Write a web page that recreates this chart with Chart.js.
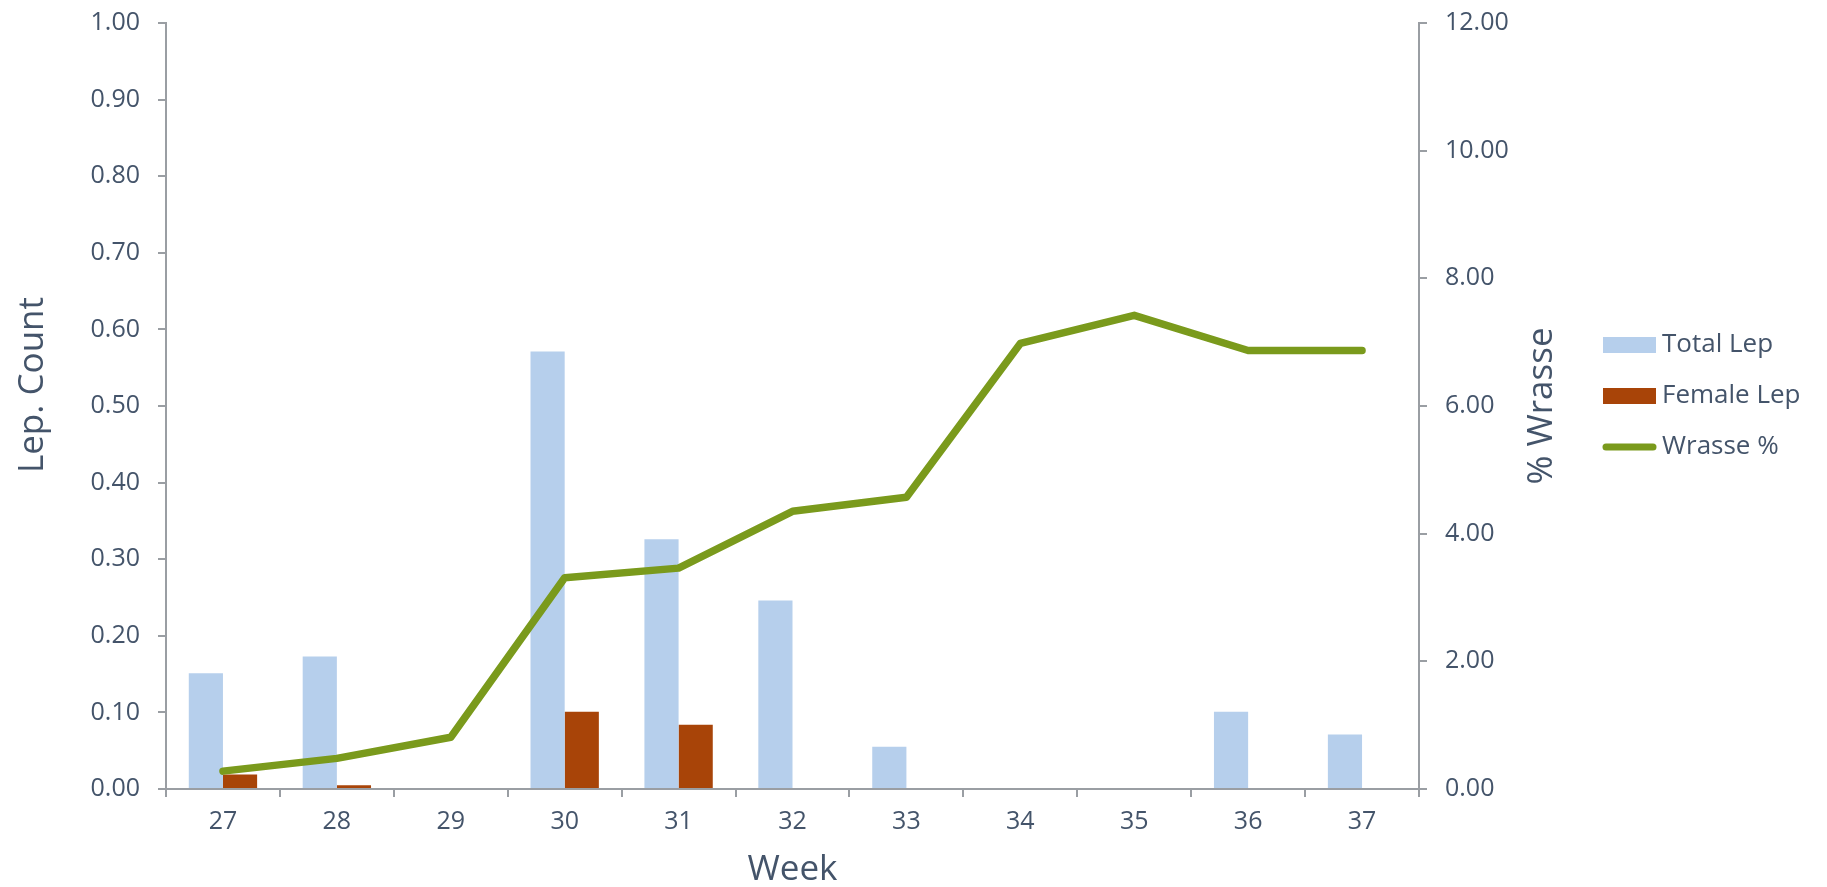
<!DOCTYPE html>
<html>
<head>
<meta charset="utf-8">
<script src="https://cdn.jsdelivr.net/npm/chart.js@4/dist/chart.umd.min.js"></script>
<style>
  html, body { margin: 0; padding: 0; background: #fff; }
  #wrap { width: 1827px; height: 887px; }
</style>
</head>
<body>
<div id="wrap"><canvas id="lepChart" width="1827" height="887"></canvas></div>
<script>
// --- data ---
const weeks = ['27', '28', '29', '30', '31', '32', '33', '34', '35', '36', '37'];
const totalLep = [0.151, 0.173, 0, 0.571, 0.326, 0.246, 0.055, 0, 0, 0.101, 0.071];
const femaleLep = [0.019, 0.005, 0, 0.101, 0.084, 0, 0, 0, 0, 0, 0];
const wrassePct = [0.28, 0.48, 0.81, 3.31, 3.46, 4.35, 4.57, 6.98, 7.42, 6.87, 6.87];

const TEXT = '#44546A';
const AXIS = '#9A9EA3';
const FONT = "'Open Sans', 'Noto Sans', sans-serif";

// axis titles (rotated) + legend drawn by hand, like the Excel layout
const extrasPlugin = {
    id: 'extras',
    afterDraw(chart) {
        const c = chart.ctx;
        const area = chart.chartArea;
        c.save();
        c.fillStyle = TEXT;
        c.textBaseline = 'middle';
        c.textAlign = 'center';
        c.font = '35px ' + FONT;

        c.save();
        c.translate(33, 385);
        c.rotate(-Math.PI / 2);
        c.fillText('Lep. Count', 0, 0);
        c.restore();

        c.save();
        c.translate(1542, (area.top + area.bottom) / 2);
        c.rotate(-Math.PI / 2);
        c.fillText('% Wrasse', 0, 0);
        c.restore();

        // legend
        const rows = [345, 396, 447];
        const ds = chart.data.datasets;
        c.font = '26px ' + FONT;
        c.textAlign = 'left';
        ds.forEach((d, i) => {
            const y = rows[i];
            if (d.type === 'line') {
                c.strokeStyle = d.borderColor;
                c.lineWidth = 7;
                c.lineCap = 'round';
                c.beginPath();
                c.moveTo(1606, y);
                c.lineTo(1653, y);
                c.stroke();
            } else {
                c.fillStyle = d.backgroundColor;
                c.fillRect(1603, y - 8, 53, 16);
            }
            c.fillStyle = TEXT;
            c.fillText(d.label, 1662, y);
        });
        c.restore();
    }
};

// fix the vertical axes' box so the plot area lands where Excel put it
function fitY(width) {
    return (s) => {
        s.width = width;
        s.paddingTop = 0;
        s.paddingBottom = 0;
    };
}

const ctx = document.getElementById('lepChart').getContext('2d');
const lepChart = new Chart(ctx, {
    data: {
        labels: weeks,
        datasets: [{
            type: 'bar',
            label: 'Total Lep',
            data: totalLep,
            backgroundColor: '#B6CFEC',
            yAxisID: 'y',
            order: 1,
            categoryPercentage: 0.6,
            barPercentage: 1.0
        }, {
            type: 'bar',
            label: 'Female Lep',
            data: femaleLep,
            backgroundColor: '#A84408',
            yAxisID: 'y',
            order: 1,
            categoryPercentage: 0.6,
            barPercentage: 1.0
        }, {
            type: 'line',
            label: 'Wrasse %',
            data: wrassePct,
            borderColor: '#7A9A1C',
            backgroundColor: '#7A9A1C',
            borderWidth: 7.5,
            borderCapStyle: 'round',
            borderJoinStyle: 'round',
            pointRadius: 0,
            tension: 0,
            yAxisID: 'y1',
            order: 0
        }]
    },
    options: {
        responsive: false,
        animation: false,
        devicePixelRatio: 1,
        layout: { padding: { top: 23, left: 0, right: 0, bottom: 0 } },
        plugins: {
            legend: { display: false },
            tooltip: { enabled: false }
        },
        scales: {
            x: {
                z: 1,
                offset: true,
                grid: { offset: true, drawOnChartArea: false, tickLength: 8, color: AXIS, lineWidth: 2 },
                border: { display: true, color: AXIS, width: 2 },
                ticks: { color: TEXT, font: { family: FONT, size: 25 }, padding: 10, maxRotation: 0 },
                title: { display: true, text: 'Week', color: TEXT, font: { family: FONT, size: 35 }, padding: { top: 0, bottom: -4 } },
                afterFit: (s) => { s.height = 98; }
            },
            y: {
                position: 'left',
                z: 1,
                min: 0,
                max: 1,
                grid: { drawOnChartArea: false, tickLength: 8, color: AXIS, lineWidth: 2 },
                border: { display: true, color: AXIS, width: 2 },
                ticks: {
                    stepSize: 0.1,
                    color: TEXT,
                    font: { family: FONT, size: 25 },
                    padding: 18,
                    callback: (v) => v.toFixed(2)
                },
                afterFit: fitY(166)
            },
            y1: {
                position: 'right',
                z: 1,
                min: 0,
                max: 12,
                grid: { drawOnChartArea: false, tickLength: 8, color: AXIS, lineWidth: 2 },
                border: { display: true, color: AXIS, width: 2 },
                ticks: {
                    stepSize: 2,
                    color: TEXT,
                    font: { family: FONT, size: 25 },
                    padding: 18,
                    callback: (v) => v.toFixed(2)
                },
                afterFit: fitY(408)
            }
        }
    },
    plugins: [extrasPlugin]
});
</script>
</body>
</html>
